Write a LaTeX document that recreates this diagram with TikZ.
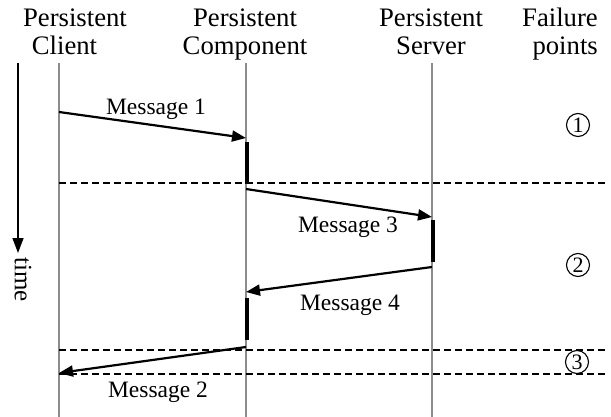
\documentclass[tikz,border=0pt]{standalone}
\usepackage{fontspec}
\setmainfont{Liberation Serif}
\usetikzlibrary{arrows.meta,positioning,calc}

\tikzset{
  lifeline/.style={draw=black!45, line width=1.5pt},
  msg/.style={-{Triangle[length=14pt,width=11pt]}, line width=2.2pt},
  activ/.style={line width=4.5pt},
  failline/.style={dash pattern=on 7pt off 4pt, line width=1.4pt},
  hdr/.style={font=\fontsize{26.7}{30}\selectfont, inner sep=0pt, anchor=base},
  msglabel/.style={font=\fontsize{23.5}{26}\selectfont, inner sep=0pt, anchor=base},
  fpoint/.style={circle, draw, line width=1.1pt, fill=white, minimum size=23pt,
    inner sep=0pt, font=\fontsize{22}{22}\selectfont}
}

\begin{document}
\begin{tikzpicture}[x=1pt,y=-1pt,>=Latex]
\useasboundingbox (0,0) rectangle (611,417);
% column heads
\node[hdr] (clienthd) at (75,27) {Persistent};
\node[hdr] (clienthdb) at (64.5,55) {Client};
\node[hdr] (comphd) at (245,27) {Persistent};
\node[hdr] (comphdb) at (245,55) {Component};
\node[hdr] (serverhd) at (431,27) {Persistent};
\node[hdr] (serverhdb) at (431,55) {Server};
\node[hdr, anchor=base east] (failhd) at (598,27) {Failure};
\node[hdr, anchor=base east] (failhdb) at (598,55) {points};
% lifelines
\foreach \n/\x in {client/59,comp/246,server/432}{
  \coordinate (\n) at (\x,63);
  \coordinate (\n end) at (\x,417);
  \draw[lifeline] (\n) -- (\n end);
}
% time axis
\coordinate (t0) at (18,63);
\coordinate (t1) at (18,253);
\draw[-{Triangle[length=15pt,width=11pt]}, line width=1.5pt] (t0) -- (t1);
\node[rotate=-90, anchor=base west, inner sep=0pt,
  font=\fontsize{25}{28}\selectfont] (time) at (15,257) {time};
% failure boundaries
\foreach \n/\y in {fa/183,fb/350,fc/374}{
  \coordinate (\n l) at (59,\y);
  \coordinate (\n r) at (605,\y);
  \draw[failline] (\n l) -- (\n r);
}
% messages
\coordinate (m1s) at (59,112);  \coordinate (m1e) at (246,138);
\coordinate (m3s) at (246,189); \coordinate (m3e) at (432,217);
\coordinate (m4s) at (432,267); \coordinate (m4e) at (246,292);
\coordinate (m2s) at (246,347); \coordinate (m2e) at (59,373);
\draw[msg] (m1s) -- (m1e);
\draw[msg] (m3s) -- (m3e);
\draw[msg] (m4s) -- (m4e);
\draw[msg] (m2s) -- (m2e);
\node[msglabel] (m1) at (156,115) {Message 1};
\node[msglabel] (m3) at (348,233) {Message 3};
\node[msglabel] (m4) at (350,310) {Message 4};
\node[msglabel] (m2) at (158,397) {Message 2};
% processing bars
\coordinate (b1t) at (247,142); \coordinate (b1b) at (247,184);
\coordinate (b2t) at (433,220); \coordinate (b2b) at (433,262);
\coordinate (b3t) at (247,298); \coordinate (b3b) at (247,340);
\draw[activ] (b1t) -- (b1b);
\draw[activ] (b2t) -- (b2b);
\draw[activ] (b3t) -- (b3b);
% failure points
\node[fpoint] (f1) at (578,125) {1};
\node[fpoint] (f2) at (578,265) {2};
\node[fpoint] (f3) at (577,362) {3};
\end{tikzpicture}
\end{document}
